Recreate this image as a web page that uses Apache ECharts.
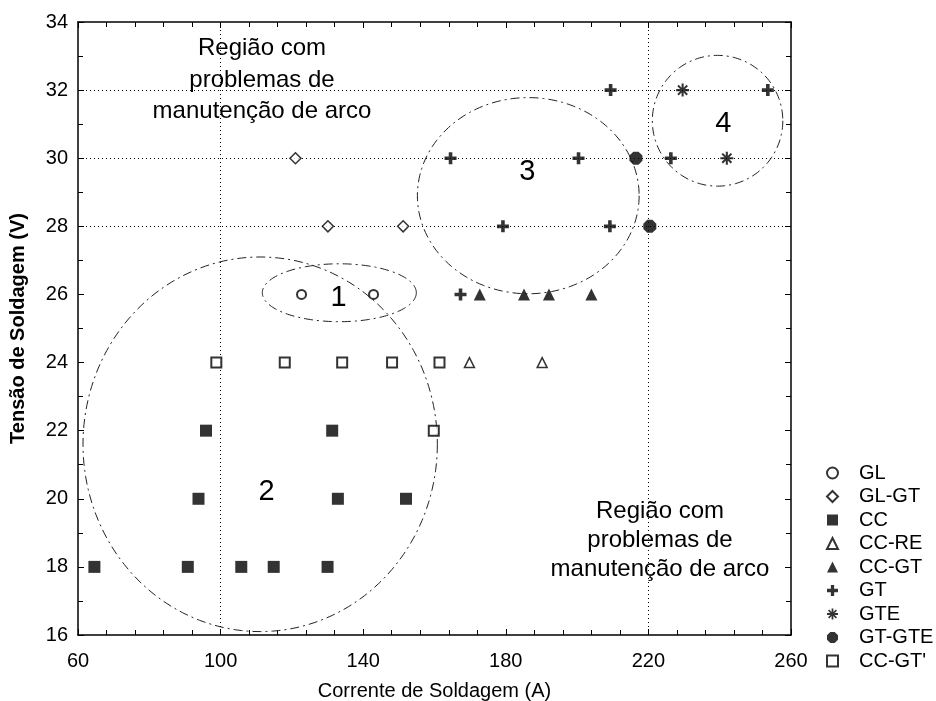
<!DOCTYPE html>
<html>
<head>
<meta charset="utf-8">
<script src="https://cdn.jsdelivr.net/npm/echarts@6/dist/echarts.min.js"></script>
<style>
  html, body { margin: 0; padding: 0; background: #fff; }
  #chart { width: 936px; height: 701px; }
</style>
</head>
<body>
<div id="chart"></div>
<script>
// Welding current (A) vs welding voltage (V) for each transfer mode
const xTickValues = [60, 100, 140, 180, 220, 260];
const yTickValues = [16, 18, 20, 22, 24, 26, 28, 30, 32, 34];

const GL = [[122.7, 26], [142.9, 26]];
const GL_GT = [[121.0, 30], [130.1, 28], [151.2, 28]];
const CC = [[95.9, 22], [131.3, 22], [93.8, 20], [132.9, 20], [152.0, 20],
            [64.6, 18], [90.8, 18], [105.8, 18], [114.9, 18], [130.0, 18]];
const CC_RE = [[169.8, 24], [190.2, 24]];
const CC_GT = [[172.7, 26], [185.1, 26], [192.1, 26], [204.0, 26]];
const GT = [[167.3, 26], [164.5, 30], [200.4, 30], [179.2, 28], [209.2, 28],
            [209.4, 32], [226.3, 30], [253.5, 32]];
const GTE = [[229.6, 32], [242.0, 30]];
const GT_GTE = [[216.5, 30], [220.4, 28]];
const CC_GT_LINE = [[98.8, 24], [118.0, 24], [134.1, 24], [148.1, 24], [161.4, 24], [159.8, 22]];

// Reference grid values (dotted)
const gridX = [100, 220];
const gridY = [28, 30, 32];

// Grouped regions: centre x, centre y, radius x, radius y (axis units)
const regions = [
  [133.3, 26.05, 21.6, 0.85],
  [111.1, 21.6, 49.7, 5.5],
  [186.3, 28.9, 31.1, 2.88],
  [239.4, 31.1, 18.3, 1.92]
];
const regionNames = ['1', '2', '3', '4'];
const regionLabelPos = [[133.1, 25.9], [112.9, 20.2], [186.0, 29.6], [241.0, 31.0]];

const FONT = 'Liberation Sans, Arial, sans-serif';

const plusPath = 'path://M3.5,0H6.5V3.5H10V6.5H6.5V10H3.5V6.5H0V3.5H3.5Z';
const starPath = 'path://M4.2,0H5.8V3.1L8,0.9L9.1,2L6.9,4.2H10V5.8H6.9L9.1,8L8,9.1L5.8,6.9V10H4.2V6.9L2,9.1L0.9,8L3.1,5.8H0V4.2H3.1L0.9,2L2,0.9L4.2,3.1Z';
const hexPath = 'path://M3,0H7L10,3V7L7,10H3L0,7V3Z';

function scatter(name, data, symbol, size, open, bw) {
  return {
    name, type: 'scatter', data, symbol, symbolSize: size,
    itemStyle: open
      ? { color: '#fff', borderColor: '#000', borderWidth: bw || 1.5 }
      : { color: '#000', borderWidth: 0 },
    z: 5
  };
}

const chart = echarts.init(document.getElementById('chart'), null, { renderer: 'canvas' });

const tickStyle = { show: true, inside: true, length: 6, lineStyle: { color: '#000', width: 1 } };
const minorStyle = { show: true, length: 5, lineStyle: { color: '#000', width: 1 } };
const regionText = 'Região com\nproblemas de\nmanutenção de arco';

const option = {
  backgroundColor: '#fff',
  animation: false,
  grid: { left: 78, right: 145, top: 22, bottom: 66, outerBoundsMode: 'none', containLabel: false },
  xAxis: [{
    type: 'value', min: 60, max: 260, interval: 40,
    name: 'Corrente de Soldagem (A)', nameLocation: 'middle', nameGap: 46,
    nameTextStyle: { fontFamily: FONT, fontSize: 20, color: '#000' },
    axisLine: { onZero: false, lineStyle: { color: '#000', width: 1.5 } },
    axisTick: tickStyle,
    minorTick: Object.assign({ splitNumber: 5 }, minorStyle),
    axisLabel: {
      fontFamily: FONT, fontSize: 20, color: '#000', margin: 16,
      formatter: v => xTickValues.includes(v) ? String(v) : ''
    },
    splitLine: { show: false }
  }, {
    type: 'value', min: 60, max: 260, interval: 40, position: 'top',
    axisLine: { onZero: false, lineStyle: { color: '#000', width: 1.5 } },
    axisTick: tickStyle, minorTick: Object.assign({ splitNumber: 5 }, minorStyle),
    axisLabel: { show: false }, splitLine: { show: false }
  }],
  yAxis: [{
    type: 'value', min: 16, max: 34, interval: 2,
    name: 'Tensão de Soldagem (V)', nameLocation: 'middle', nameGap: 50, nameRotate: 90,
    nameTextStyle: { fontFamily: FONT, fontSize: 20, fontWeight: 'bold', color: '#000' },
    axisLine: { onZero: false, lineStyle: { color: '#000', width: 1.5 } },
    axisTick: tickStyle,
    minorTick: Object.assign({ splitNumber: 2 }, minorStyle),
    axisLabel: {
      fontFamily: FONT, fontSize: 20, color: '#000', margin: 10,
      formatter: v => yTickValues.includes(v) ? String(v) : ''
    },
    splitLine: { show: false }
  }, {
    type: 'value', min: 16, max: 34, interval: 2, position: 'right',
    axisLine: { onZero: false, lineStyle: { color: '#000', width: 1.5 } },
    axisTick: tickStyle, minorTick: Object.assign({ splitNumber: 2 }, minorStyle),
    axisLabel: { show: false }, splitLine: { show: false }
  }],
  legend: {
    orient: 'vertical', left: 821, top: 458,
    itemWidth: 11, itemHeight: 11, itemGap: 3.5,
    textStyle: { fontFamily: FONT, fontSize: 20, color: '#000', padding: [0, 0, 0, 16] },
    data: ['GL', 'GL-GT', 'CC', 'CC-RE', 'CC-GT', 'GT', 'GTE', 'GT-GTE', "CC-GT'"]
  },
  graphic: [
    {
      type: 'text', z: 10,
      style: {
        text: regionText, x: 262, y: 33, align: 'center', verticalAlign: 'top',
        fontFamily: FONT, fontSize: 24, lineHeight: 31.5, fill: '#000'
      }
    },
    {
      type: 'text', z: 10,
      style: {
        text: regionText, x: 660, y: 497, align: 'center', verticalAlign: 'top',
        fontFamily: FONT, fontSize: 24, lineHeight: 29, fill: '#000'
      }
    }
  ],
  series: [
    {
      name: 'grid', type: 'scatter', data: [], silent: true,
      markLine: {
        silent: true, symbol: 'none', label: { show: false },
        lineStyle: { color: '#000', type: [1, 3], width: 1 },
        data: gridX.map(v => ({ xAxis: v })).concat(gridY.map(v => ({ yAxis: v })))
      }
    },
    {
      name: 'regions', type: 'custom', silent: true, z: 3,
      data: regions,
      renderItem(params, api) {
        const c = api.coord([api.value(0), api.value(1)]);
        const s = api.size([api.value(2), api.value(3)]);
        const pts = [];
        for (let i = 0; i <= 180; i++) {
          const a = i / 180 * Math.PI * 2;
          pts.push([c[0] + s[0] * Math.cos(a), c[1] + s[1] * Math.sin(a)]);
        }
        return {
          type: 'polyline', shape: { points: pts },
          style: { stroke: '#222', lineWidth: 1, fill: null, lineDash: [9, 4, 2, 4] }
        };
      }
    },
    {
      name: 'regionLabels', type: 'custom', silent: true, z: 4,
      data: regionLabelPos.map((p, i) => [p[0], p[1], i]),
      renderItem(params, api) {
        const c = api.coord([api.value(0), api.value(1)]);
        return {
          type: 'text',
          style: {
            text: regionNames[api.value(2)], x: c[0], y: c[1],
            align: 'center', verticalAlign: 'middle',
            fontFamily: FONT, fontSize: 29, fill: '#000'
          }
        };
      }
    },
    scatter('GL', GL, 'circle', 9, true, 2),
    scatter('GL-GT', GL_GT, 'diamond', 11, true, 1.5),
    scatter('CC', CC, 'rect', 12, false),
    scatter('CC-RE', CC_RE, 'triangle', 10, true, 1.5),
    scatter('CC-GT', CC_GT, 'triangle', 12, false),
    scatter('GT', GT, plusPath, 12, false),
    scatter('GTE', GTE, starPath, 13, false),
    scatter('GT-GTE', GT_GTE, hexPath, 13, false),
    scatter("CC-GT'", CC_GT_LINE, 'rect', 10, true, 2)
  ]
};

chart.setOption(option);
</script>
</body>
</html>
